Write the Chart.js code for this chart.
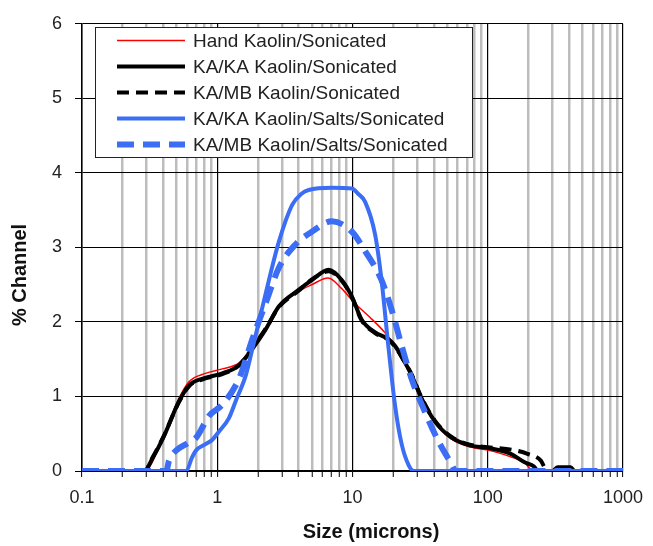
<!DOCTYPE html>
<html>
<head>
<meta charset="utf-8">
<script src="https://cdn.jsdelivr.net/npm/chart.js@4/dist/chart.umd.min.js"></script>
<style>
  html, body { margin: 0; padding: 0; background: #fff; }
  #wrap { width: 653px; height: 546px; position: relative; }
</style>
</head>
<body>
<div id="wrap"><canvas id="psd-chart"></canvas></div>
<script>
// series labels
const seriesNames = [
    'Hand Kaolin/Sonicated',
    'KA/KA Kaolin/Sonicated',
    'KA/MB Kaolin/Sonicated',
    'KA/KA Kaolin/Salts/Sonicated',
    'KA/MB Kaolin/Salts/Sonicated'
];

// size (microns) / % channel
const handX = [0.1, 0.29, 0.4, 0.52, 0.62, 0.82, 1.09, 1.45, 1.82, 2.28, 2.86, 4.0, 5.0, 6.6, 8.3, 10.4, 13.5, 17.3, 20.6, 24, 27.3, 32.3, 40.5, 53.7, 75, 100, 148, 190, 215, 1000];
const handY = [0, 0, 0.47, 0.97, 1.2, 1.31, 1.37, 1.45, 1.66, 1.92, 2.2, 2.41, 2.5, 2.59, 2.45, 2.25, 2.06, 1.86, 1.68, 1.48, 1.29, 0.98, 0.66, 0.43, 0.32, 0.28, 0.19, 0.1, 0, 0];

const kaX = [0.1, 0.29, 0.33, 0.4, 0.52, 0.62, 0.78, 1.09, 1.45, 1.82, 2.28, 2.86, 4.0, 5.0, 6.66, 8.35, 9.9, 11.7, 14.7, 18.4, 20.6, 24, 27.3, 32.3, 40.5, 53.7, 75, 100, 148, 186, 220, 235, 300, 330, 410, 440, 1000];
const kaY = [0, 0, 0.16, 0.45, 0.93, 1.15, 1.24, 1.31, 1.42, 1.64, 1.9, 2.21, 2.43, 2.56, 2.7, 2.56, 2.34, 2.03, 1.86, 1.77, 1.68, 1.48, 1.29, 0.98, 0.67, 0.45, 0.34, 0.31, 0.23, 0.12, 0.06, 0, 0, 0.05, 0.05, 0, 0];

const mbX = [0.1, 0.29, 0.33, 0.4, 0.52, 0.62, 0.78, 1.09, 1.45, 1.82, 2.28, 2.86, 4.0, 5.0, 6.66, 8.35, 9.9, 11.7, 14.7, 18.4, 20.6, 24, 27.3, 32.3, 40.5, 53.7, 75, 100, 157, 197, 247, 275, 1000];
const mbY = [0, 0, 0.17, 0.46, 0.92, 1.14, 1.23, 1.3, 1.42, 1.65, 1.91, 2.2, 2.42, 2.57, 2.68, 2.55, 2.33, 2.02, 1.85, 1.76, 1.67, 1.48, 1.3, 0.99, 0.68, 0.46, 0.35, 0.32, 0.28, 0.23, 0.14, 0, 0];

const saltsKaX = [0.1, 0.59, 0.65, 0.7, 0.8, 0.92, 1.03, 1.22, 1.37, 1.63, 1.82, 2.28, 2.86, 3.58, 4.2, 4.74, 7.05, 9.9, 11.0, 12.4, 14.7, 16.4, 18.4, 20.6, 23.1, 26, 28.5, 1000];
const saltsKaY = [0, 0, 0.18, 0.28, 0.35, 0.42, 0.53, 0.71, 0.94, 1.29, 1.64, 2.38, 3.08, 3.57, 3.72, 3.77, 3.8, 3.79, 3.72, 3.61, 3.17, 2.56, 1.68, 0.89, 0.36, 0.08, 0, 0];

const saltsMbX = [0.1, 0.42, 0.44, 0.5, 0.6, 0.7, 0.87, 1.09, 1.45, 1.82, 2.28, 2.86, 3.79, 5.0, 7.05, 9.9, 12.4, 16.4, 19.5, 23.1, 27.3, 34.2, 42.9, 53.7, 58, 1000];
const saltsMbY = [0, 0, 0.14, 0.28, 0.37, 0.45, 0.74, 0.89, 1.24, 1.77, 2.25, 2.73, 3.04, 3.21, 3.35, 3.21, 2.95, 2.56, 2.16, 1.68, 1.24, 0.8, 0.41, 0.1, 0, 0];

// x ticks: 1..9 of every decade from 0.1 to 1000
const xDecades = [0.1, 1, 10, 100];
const xTicks = [];
xDecades.forEach(d => { for (let k = 1; k <= 9; k++) xTicks.push(+(k * d).toPrecision(3)); });
xTicks.push(1000);

const FONT = "'Liberation Sans', Arial, sans-serif";
const TEXT = '#222';

function isDecade(v) {
    const l = Math.log10(v);
    return Math.abs(l - Math.round(l)) < 1e-6;
}

function pts(xs, ys) {
    return xs.map((x, i) => ({ x: x, y: ys[i] }));
}

const styles = [
    { color: '#ff0000', width: 1.5, dash: [] },
    { color: '#000000', width: 4, dash: [] },
    { color: '#000000', width: 4, dash: [12, 7] },
    { color: '#3b6ef5', width: 4, dash: [] },
    { color: '#3b6ef5', width: 6, dash: [17, 9] }
];
const series = [pts(handX, handY), pts(kaX, kaY), pts(mbX, mbY), pts(saltsKaX, saltsKaY), pts(saltsMbX, saltsMbY)];

const datasets = series.map((d, i) => ({
    label: seriesNames[i],
    data: d,
    showLine: true,
    borderColor: styles[i].color,
    backgroundColor: styles[i].color,
    borderWidth: styles[i].width,
    borderDash: styles[i].dash,
    pointRadius: 0,
    cubicInterpolationMode: 'monotone',
    order: 5 - i
}));

// legend box inside the plot + axis titles
const boxPlugin = {
    id: 'boxLegend',
    afterDraw(chart) {
        const c = chart.ctx;
        c.save();
        c.fillStyle = '#fff';
        c.fillRect(95, 27, 377, 130);
        c.strokeStyle = '#222';
        c.lineWidth = 1;
        c.strokeRect(95.5, 27.5, 377, 130);
        c.font = '19px ' + FONT;
        c.textBaseline = 'middle';
        datasets.forEach((ds, i) => {
            const y = 40.5 + 26 * i;
            c.beginPath();
            c.strokeStyle = ds.borderColor;
            c.lineWidth = ds.borderWidth;
            c.setLineDash(ds.borderDash);
            c.moveTo(117, y);
            c.lineTo(185, y);
            c.stroke();
            c.setLineDash([]);
            c.fillStyle = TEXT;
            c.fillText(ds.label, 193, y + 1);
        });

        c.fillStyle = '#111';
        c.font = 'bold 20px ' + FONT;
        c.textAlign = 'center';
        c.fillText('Size (microns)', 371, 532);
        c.translate(20, 275);
        c.rotate(-Math.PI / 2);
        c.fillText('% Channel', 0, 0);
        c.restore();
    }
};

new Chart(document.getElementById('psd-chart'), {
    type: 'scatter',
    data: { datasets: datasets },
    options: {
        responsive: true,
        maintainAspectRatio: false,
        animation: false,
        layout: { padding: { top: 15, right: 27, left: 0, bottom: 0 } },
        plugins: {
            legend: { display: false },
            tooltip: { enabled: false }
        },
        scales: {
            x: {
                type: 'logarithmic',
                min: 0.1,
                max: 1000,
                afterBuildTicks: scale => { scale.ticks = xTicks.map(v => ({ value: v, major: isDecade(v) })); },
                afterFit: scale => { scale.height = 75; },
                ticks: {
                    autoSkip: false,
                    maxRotation: 0,
                    padding: 10,
                    color: TEXT,
                    font: { family: FONT, size: 18 },
                    callback: v => isDecade(v) ? String(v) : ''
                },
                grid: {
                    color: ctx => isDecade(ctx.tick.value) ? '#000' : '#bdbdbd',
                    lineWidth: ctx => isDecade(ctx.tick.value) ? 1.2 : 2.5,
                    tickColor: '#000',
                    tickWidth: 1,
                    tickLength: 6
                },
                border: { color: '#000', width: 1.5 }
            },
            y: {
                min: 0,
                max: 6,
                afterFit: scale => { scale.width = 82; },
                ticks: {
                    stepSize: 1,
                    padding: 13,
                    color: TEXT,
                    font: { family: FONT, size: 18 }
                },
                grid: {
                    color: '#000',
                    lineWidth: 1,
                    tickColor: '#000',
                    tickLength: 7
                },
                border: { color: '#000', width: 1.5 }
            }
        }
    },
    plugins: [boxPlugin]
});
</script>
</body>
</html>
